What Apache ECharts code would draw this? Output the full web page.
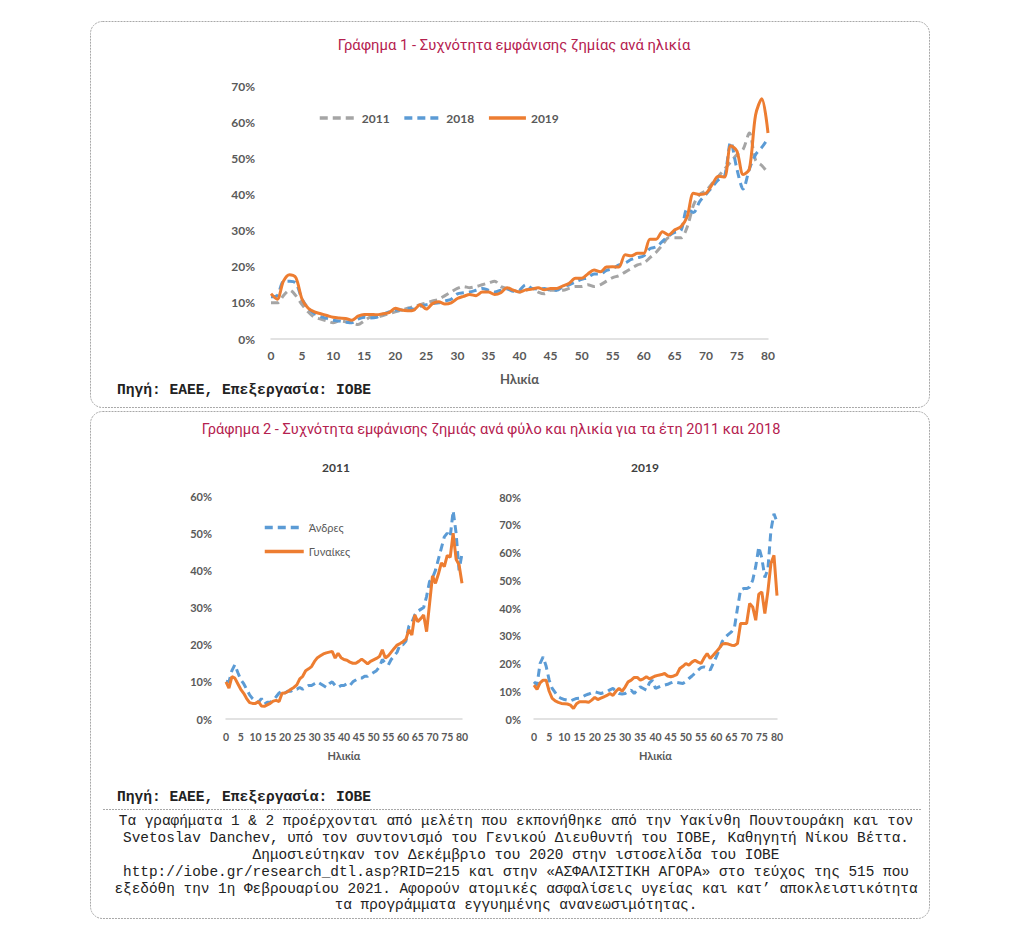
<!DOCTYPE html>
<html>
<head>
<meta charset="utf-8">
<script src="https://cdn.jsdelivr.net/npm/echarts@6/dist/echarts.min.js"></script>
<style>
html,body{margin:0;padding:0;background:#fff;}
#c{width:1024px;height:938px;}
</style>
</head>
<body>
<div id="c"></div>
<script>
// ---- data ----
const ages = Array.from({length: 81}, (_, i) => i);
const xTicks = [0,5,10,15,20,25,30,35,40,45,50,55,60,65,70,75,80];

const title1 = 'Γράφημα 1 - Συχνότητα εμφάνισης ζημίας ανά ηλικία';
const title2 = 'Γράφημα 2 - Συχνότητα εμφάνισης ζημιάς ανά φύλο και ηλικία για τα έτη 2011 και 2018';
const sourceText = 'Πηγή: ΕΑΕΕ, Επεξεργασία: ΙΟΒΕ';
const axisName = 'Ηλικία';
const names1 = ['2011', '2018', '2019'];
const names2 = ['Άνδρες', 'Γυναίκες'];
const subTitles = ['2011', '2019'];
const noteLines = [
  'Τα γραφήματα 1 & 2 προέρχονται από μελέτη που εκπονήθηκε από την Υακίνθη Πουντουράκη και τον',
  'Svetoslav Danchev, υπό τον συντονισμό του Γενικού Διευθυντή του ΙΟΒΕ, Καθηγητή Νίκου Βέττα.',
  'Δημοσιεύτηκαν τον Δεκέμβριο του 2020 στην ιστοσελίδα του ΙΟΒΕ',
  'http://iobe.gr/research_dtl.asp?RID=215 και στην «ΑΣΦΑΛΙΣΤΙΚΗ ΑΓΟΡΑ» στο τεύχος της 515 που',
  'εξεδόθη την 1η Φεβρουαρίου 2021. Αφορούν ατομικές ασφαλίσεις υγείας και κατ’ αποκλειστικότητα',
  'τα προγράμματα εγγυημένης ανανεωσιμότητας.'
];

// Chart 1 (%), ages 0..80
const all2011 = [10,10,12,13.5,12,9.5,7.5,6,5.5,5,4.5,5,4.8,4.5,4,5,6,6,6.5,7,
  7.5,8,8.5,9,9.5,10,10.5,11,12,13,14,14.5,14.2,14.5,15,15.5,16,14.5,14,13.5,
  13,13.5,14,13,12.5,13.5,13.5,13.5,14,14.5,14.5,15,14.5,15,16,17,17.5,18.5,19.5,20.5,
  21,22.5,24,26,28,28,28,31,37,40,41,43,45,47,49,51,52.5,57,49.5,48,46];
const all2018 = [11.7,12,15.9,16,15.5,11,8.5,7,6.2,5.7,5.2,5,4.7,4.5,5.5,6,5.8,6,6.8,7.5,
  8,8,8.5,8.2,9,9.5,9.8,10,10.5,11,12.5,12.8,13,13.5,14,13.5,13,13.5,13.8,13.2,
  13.5,15,14,13.8,14,13.5,13.5,14.5,15,15.8,16.5,17,18,18,19,19.5,20.5,21,22,22.5,
  23,25,25.5,27,28.5,29.5,30,36,35,38,40,42,44,45,54.5,47,41.5,47,51,53,55.5];
const all2019 = [12.5,11,16,17.8,17,11,8.5,7.5,7,6.5,6,5.8,5.7,5.2,6.3,6.8,6.8,6.7,7,7.3,
  8.5,8,7.8,8,9.5,8.3,9.8,10.3,9.7,10,11.2,11.8,12.3,12,13,13,12.3,12.8,14.2,13.5,
  13,13.6,13.8,14.2,13.6,14,14,14.7,15.4,16.8,16.8,18,19.1,18.6,19.9,20,19.9,23.3,23,23.7,
  23.7,27.6,27.6,29.7,28.8,30.2,31.1,33.9,40.3,40,40.3,42.7,45,44.8,53.5,52,45.5,47,62,66.5,57];

// Chart 2, 2011 (%)
const men2011 = [10.2,10,13,14.6,12.5,10.6,9.5,8,6.5,5.5,4.8,4.5,5.5,4,4.5,4.5,5,6,7,7.5,
  7,7.5,7.5,8,8,8.5,8,8.5,9,9,9.5,10,9.5,9,8.5,9.5,10,9,8.5,9,
  9,9.5,9,10,10.5,11,11,11.5,11.5,12,12.5,13,14,16,15,14.5,16,17,18,20,
  20,21,25,26,28,29,29.5,30,33,37,38,40,43,46,49,50,49,56,50,40,44.5];
const women2011 = [10,8.3,11.4,11,9.5,8,6.9,5.5,4.4,4.2,4.2,4.7,3.5,3.4,3.8,4.2,4.8,5,4.7,6.9,
  7,7.4,8,8.5,9.2,10.8,11.5,13,13.5,14.1,15.5,16.5,17,17.5,17.8,18,18.2,16.4,17.7,16.5,
  16,15.8,15.3,15,15,15.5,16.1,15.5,14.8,15.5,15.9,16.3,16.8,18.6,16.4,17,18,19,19.9,20.3,
  20.8,21.5,24,22.6,28,26.2,27,28,23.5,31,38.5,36.5,39,42,41,44,43.5,50,43,41.5,36.5];

// Chart 2, 2019 (%)
const men2019 = [13.4,12.2,20,22.4,19,14,11,9.5,8,7.4,7,6.8,6.5,7,7.4,7.5,8,8.6,9,9.5,
  9.8,9.5,9.2,9.5,9.8,10.5,11,10,9.2,9,9.2,10,10.4,9.2,10.5,11.6,11,10.4,13,14,
  11,11.5,12,12.2,12.5,13,13.4,13.2,13,12.8,13.5,14.6,15.5,16.5,17.6,18.5,18.8,18.5,17.6,20,
  22.4,25,28,29.5,30.5,31.4,33,40,46.5,47,47,47.5,50,55,62,58,51,54,68,74,71];
const women2019 = [12.2,10.7,13,14,14,10,7.4,6.5,6,5.6,5.5,5.4,5,3.8,5.5,6.2,6.2,6.2,6,6.8,
  7.8,7,7.5,8,8.5,9.2,8.5,10,11,10,11.5,13.4,14,15,15,14,14.5,15.2,14.5,15,
  15.5,15.8,16,16.4,15.5,15.2,15.5,16,18.2,19,20,19.4,20.5,21.2,20.5,20,22,23.6,21.8,23,
  24.2,25.5,27,27.2,27,26.6,26.5,27.2,34.4,34.4,34.4,41.6,40.4,35.6,45,45.8,38,46,56,59,44.5];

// ---- styles ----
const GRAY = '#A5A5A5', BLUE = '#5B9BD5', ORANGE = '#ED7D31';
const LBL = '#595959';
const FONT = 'Lato, "Open Sans", sans-serif';
const pairs = arr => ages.map((a, i) => [a, arr[i]]);

function xAxisCfg(gridIndex, fontSize, margin, nameSize, nameGap) {
  return {
    type: 'value', gridIndex, min: 0, max: 80, interval: 5,
    axisLine: {show: true, lineStyle: {color: '#D9D9D9', width: 1.5}},
    axisTick: {show: false}, splitLine: {show: false},
    axisLabel: {color: LBL, fontSize, fontWeight: 'bold', fontFamily: FONT, margin},
    name: axisName, nameLocation: 'middle', nameGap,
    nameTextStyle: {color: LBL, fontSize: nameSize, fontWeight: 'bold', fontFamily: FONT}
  };
}
function yAxisCfg(gridIndex, max, fontSize, margin) {
  return {
    type: 'value', gridIndex, min: 0, max, interval: 10,
    axisLine: {show: false}, axisTick: {show: false}, splitLine: {show: false},
    axisLabel: {color: LBL, fontSize, fontWeight: 'bold', fontFamily: FONT, margin,
      formatter: '{value}%'}
  };
}
function lineSeries(name, data, color, dashed, width, xi, smooth, z) {
  return {
    name, type: 'line', xAxisIndex: xi, yAxisIndex: xi, data: pairs(data),
    symbol: 'none', smooth, z,
    lineStyle: {color, width, type: dashed ? [8, 5] : 'solid', cap: 'butt'},
    itemStyle: {color}
  };
}

const chart = echarts.init(document.getElementById('c'), null, {renderer: 'svg'});
chart.setOption({
  animation: false,
  backgroundColor: '#fff',
  grid: [
    {left: 271, right: 256, top: 86, bottom: 599},
    {left: 226, right: 562, top: 496, bottom: 219},
    {left: 534, right: 247, top: 497, bottom: 219}
  ],
  xAxis: [xAxisCfg(0, 12, 10, 13, 33), xAxisCfg(1, 10.5, 12, 11, 31), xAxisCfg(2, 10.5, 12, 11, 31)],
  yAxis: [yAxisCfg(0, 70, 12, 16), yAxisCfg(1, 60, 11, 14), yAxisCfg(2, 80, 11, 13)],
  legend: [
    {data: names1, left: 313, top: 107, itemWidth: 37, itemHeight: 14, itemGap: 13,
      itemStyle: {opacity: 0}, lineStyle: {width: 3.5},
      textStyle: {color: LBL, fontSize: 12, fontWeight: 'bold', fontFamily: FONT}},
    {data: names2, orient: 'vertical', left: 258, top: 517, itemWidth: 39, itemHeight: 12, itemGap: 13,
      itemStyle: {opacity: 0}, lineStyle: {width: 3.5},
      textStyle: {color: LBL, fontSize: 11, fontFamily: FONT}}
  ],
  series: [
    lineSeries(names1[0], all2011, GRAY, true, 3, 0, 0.3, 2),
    lineSeries(names1[1], all2018, BLUE, true, 3, 0, 0.3, 3),
    lineSeries(names1[2], all2019, ORANGE, false, 3, 0, 0.3, 4),
    lineSeries(names2[0], men2011, BLUE, true, 3, 1, false, 3),
    lineSeries(names2[1], women2011, ORANGE, false, 3, 1, false, 4),
    lineSeries(names2[0] + ' 2019', men2019, BLUE, true, 3, 2, false, 3),
    lineSeries(names2[1] + ' 2019', women2019, ORANGE, false, 3, 2, false, 4)
  ],
  graphic: [
    {type: 'rect', shape: {x: 90.5, y: 21.5, width: 839, height: 386, r: 12}, z: -1,
      style: {fill: 'none', stroke: '#A8A8A8', lineWidth: 1, lineDash: [2, 1]}},
    {type: 'rect', shape: {x: 90.5, y: 411.5, width: 839, height: 507, r: 12}, z: -1,
      style: {fill: 'none', stroke: '#A8A8A8', lineWidth: 1, lineDash: [2, 1]}},
    {type: 'line', shape: {x1: 103, y1: 809.5, x2: 922, y2: 809.5},
      style: {stroke: '#A8A8A8', lineWidth: 1, lineDash: [2, 1]}},
    {type: 'text', x: 514, y: 45, style: {text: title1, fill: '#B5214F',
      font: '14.8px Roboto, sans-serif', align: 'center', verticalAlign: 'middle'}},
    {type: 'text', x: 491, y: 429, style: {text: title2, fill: '#B5214F',
      font: '14.6px Roboto, sans-serif', align: 'center', verticalAlign: 'middle'}},
    {type: 'text', x: 117, y: 390, style: {text: sourceText, fill: '#222',
      font: 'bold 14.6px "Liberation Mono", monospace', align: 'left', verticalAlign: 'middle'}},
    {type: 'text', x: 117, y: 797, style: {text: sourceText, fill: '#222',
      font: 'bold 14.6px "Liberation Mono", monospace', align: 'left', verticalAlign: 'middle'}},
    {type: 'text', x: 336, y: 467, style: {text: subTitles[0], fill: '#404040',
      font: 'bold 12px ' + FONT, align: 'center', verticalAlign: 'middle'}},
    {type: 'text', x: 645, y: 467, style: {text: subTitles[1], fill: '#404040',
      font: 'bold 12px ' + FONT, align: 'center', verticalAlign: 'middle'}},
    {type: 'text', x: 516, y: 813, style: {text: noteLines.join('\n'), fill: '#222',
      font: '14.4px "Liberation Mono", monospace', lineHeight: 16.8, align: 'center', verticalAlign: 'top'}}
  ]
});
</script>
</body>
</html>
